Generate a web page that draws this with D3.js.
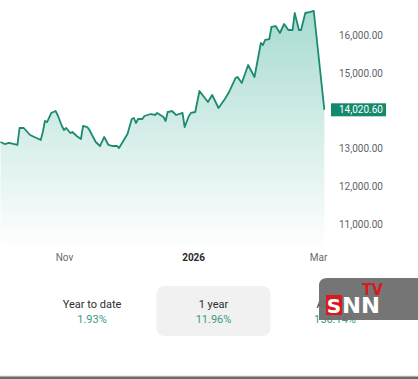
<!DOCTYPE html>
<html>
<head>
<meta charset="utf-8">
<script src="https://cdn.jsdelivr.net/npm/d3@7"></script>
<style>
  html, body { margin: 0; padding: 0; background: #fff; }
  svg { display: block; font-family: Roboto, "Noto Sans", sans-serif; }
</style>
</head>
<body>
<div id="chart"></div>
<script>
// closing values
const dates = [
  "2025-10-02","2025-10-04","2025-10-06","2025-10-10","2025-10-11","2025-10-13","2025-10-16","2025-10-18",
  "2025-10-21","2025-10-22","2025-10-23","2025-10-24","2025-10-26","2025-10-28","2025-10-29","2025-10-31",
  "2025-11-01","2025-11-02","2025-11-04","2025-11-05","2025-11-07","2025-11-09","2025-11-10","2025-11-12",
  "2025-11-13","2025-11-16","2025-11-18","2025-11-20","2025-11-22","2025-11-24","2025-11-26","2025-11-27",
  "2025-11-29","2025-12-01","2025-12-03","2025-12-04","2025-12-05","2025-12-06","2025-12-08","2025-12-09",
  "2025-12-12","2025-12-14","2025-12-15","2025-12-18","2025-12-19","2025-12-20","2025-12-22","2025-12-24",
  "2025-12-27","2025-12-28","2025-12-30","2025-12-31","2026-01-02","2026-01-04","2026-01-08","2026-01-10",
  "2026-01-13","2026-01-16","2026-01-18","2026-01-21","2026-01-22","2026-01-24","2026-01-27","2026-01-30",
  "2026-02-02","2026-02-03","2026-02-04","2026-02-06","2026-02-07","2026-02-09","2026-02-11","2026-02-13",
  "2026-02-15","2026-02-17","2026-02-18","2026-02-20","2026-02-21","2026-02-23","2026-02-25","2026-02-27",
  "2026-03-04"
];
const closes = [
  13169, 13116, 13143, 13090, 13540, 13540, 13355, 13302,
  13222, 13434, 13725, 13698, 13937, 13989, 13884, 13593,
  13487, 13540, 13407, 13434, 13328, 13249, 13593, 13566,
  13487, 13169, 13063, 13302, 13090, 13063, 13063, 13011,
  13196, 13381, 13778, 13804, 13672, 13778, 13778, 13857,
  13910, 13884, 13937, 13831, 13725, 13963, 13989, 13884,
  13937, 13566, 13857, 13937, 13963, 14519, 14228, 14413,
  14069, 14307, 14492, 14862, 14889, 14730, 15206, 14889,
  15788, 15735, 15868, 15894, 16212, 16238, 16053, 16291,
  16132, 16132, 16582, 16132, 16132, 16582, 16608, 16635,
  14020.60
];
const lastValue = 14020.60;

const yTicks = [11000, 12000, 13000, 14000, 15000, 16000];
const yTicksShown = [11000, 12000, 13000, 15000, 16000];
const xTickDates = ["2025-11-01", "2026-01-01", "2026-03-01"];
const xTickLabels = ["Nov", "2026", "Mar"];

const periodLabels = ["Year to date", "1 year", "All time"];
const periodReturns = ["1.93%", "11.96%", "156.14%"];
const selectedPeriod = "1 year";

const width = 418;
const height = 379;
const plotRight = 325;
const plotBottom = 250;

const parse = d3.utcParse("%Y-%m-%d");
const data = dates.map((d, i) => ({ date: parse(d), value: closes[i] }));

const svg = d3.select("#chart").append("svg")
  .attr("width", width)
  .attr("height", height)
  .attr("viewBox", `0 0 ${width} ${height}`);

const x = d3.scaleUtc()
  .domain([parse("2025-11-01"), parse("2026-03-01")])
  .range([64, 318]);

const y = d3.scaleLinear()
  .domain([11000, 16000])
  .range([224, 35]);

const defs = svg.append("defs");
const grad = defs.append("linearGradient")
  .attr("id", "fillGrad")
  .attr("gradientUnits", "userSpaceOnUse")
  .attr("x1", 0).attr("x2", 0)
  .attr("y1", 10).attr("y2", plotBottom);
grad.append("stop").attr("offset", 0).attr("stop-color", "#a6dbd1");
grad.append("stop").attr("offset", 0.55).attr("stop-color", "#d9efeb");
grad.append("stop").attr("offset", 1).attr("stop-color", "#ffffff");

defs.append("clipPath").attr("id", "plotClip")
  .append("rect").attr("x", 0).attr("y", 0).attr("width", plotRight).attr("height", plotBottom);

const area = d3.area()
  .x(d => x(d.date))
  .y0(plotBottom)
  .y1(d => y(d.value));

const line = d3.line()
  .x(d => x(d.date))
  .y(d => y(d.value));

const plot = svg.append("g").attr("clip-path", "url(#plotClip)");

plot.append("path")
  .datum(data)
  .attr("fill", "url(#fillGrad)")
  .attr("d", area);

plot.append("path")
  .datum(data)
  .attr("fill", "none")
  .attr("stroke", "#1b8a6e")
  .attr("stroke-width", 1.8)
  .attr("stroke-linejoin", "round")
  .attr("d", line);

// y axis on the right
const yAxis = svg.append("g")
  .attr("transform", "translate(339,0)")
  .call(d3.axisRight(y)
    .tickValues(yTicksShown)
    .tickSize(0)
    .tickPadding(0)
    .tickFormat(d3.format(",.2f")));
yAxis.select(".domain").remove();
yAxis.selectAll("text")
  .attr("font-family", "Roboto, sans-serif")
  .attr("font-size", 10)
  .attr("fill", "#5f6368");

// last value badge
const badgeY = y(lastValue);
svg.append("rect")
  .attr("x", 331).attr("y", badgeY - 6.5)
  .attr("width", 55).attr("height", 13)
  .attr("fill", "#14896c");
svg.append("text")
  .attr("x", 339).attr("y", badgeY)
  .attr("dy", "0.35em")
  .attr("font-size", 10)
  .attr("fill", "#ffffff")
  .text(d3.format(",.2f")(lastValue));

// x axis
const xAxis = svg.append("g")
  .attr("transform", `translate(0,${plotBottom})`)
  .call(d3.axisBottom(x)
    .tickValues(xTickDates.map(parse))
    .tickSize(0)
    .tickPadding(4)
    .tickFormat((d, i) => xTickLabels[i]));
xAxis.select(".domain").remove();
xAxis.selectAll("text")
  .attr("font-family", "Roboto, sans-serif")
  .attr("font-size", 10)
  .attr("fill", (d, i) => xTickLabels[i] === "2026" ? "#2b2b2b" : "#6b6b6b")
  .attr("font-weight", (d, i) => xTickLabels[i] === "2026" ? "bold" : "normal");

// period returns
const px = d3.scalePoint()
  .domain(periodLabels)
  .range([92, 335]);

svg.append("rect")
  .attr("x", px(selectedPeriod) - 57).attr("y", 286)
  .attr("width", 114).attr("height", 50)
  .attr("rx", 8)
  .attr("fill", "#f1f1f1");

const periods = svg.append("g").selectAll("g")
  .data(periodLabels)
  .join("g")
  .attr("transform", d => `translate(${px(d)},0)`);

periods.append("text")
  .attr("y", 308)
  .attr("text-anchor", "middle")
  .attr("font-size", 11)
  .attr("fill", "#2d2d2d")
  .text(d => d);

periods.append("text")
  .attr("y", 323)
  .attr("text-anchor", "middle")
  .attr("font-size", 11)
  .attr("fill", "#3a9a84")
  .text((d, i) => periodReturns[i]);

// SNN TV watermark
const logo = svg.append("g");
logo.append("path")
  .attr("d", "M327,278 H418 V320 H319 V286 Q319,278 327,278 Z")
  .attr("fill", "#6e6e6e")
  .attr("opacity", 0.95);
logo.append("rect")
  .attr("x", 326).attr("y", 295).attr("width", 16).attr("height", 20)
  .attr("fill", "#d71920");
logo.append("text")
  .attr("x", 334).attr("y", 313)
  .attr("text-anchor", "middle")
  .attr("font-family", "'DejaVu Sans', sans-serif")
  .attr("font-weight", "bold")
  .attr("font-size", 20)
  .attr("fill", "#ffffff")
  .text("S");
logo.append("text")
  .attr("x", 342).attr("y", 313)
  .attr("font-family", "'DejaVu Sans', sans-serif")
  .attr("font-weight", "bold")
  .attr("font-size", 21)
  .attr("textLength", 38)
  .attr("lengthAdjust", "spacingAndGlyphs")
  .attr("fill", "#ffffff")
  .text("NN");
logo.append("text")
  .attr("x", 362).attr("y", 295)
  .attr("font-family", "'DejaVu Sans', sans-serif")
  .attr("font-weight", "bold")
  .attr("font-size", 15)
  .attr("textLength", 21)
  .attr("lengthAdjust", "spacingAndGlyphs")
  .attr("fill", "#d71920")
  .text("TV");

// bottom rule
svg.append("rect").attr("x", 0).attr("y", 375.5).attr("width", width).attr("height", 1).attr("fill", "#e2e2e2");
svg.append("rect").attr("x", 0).attr("y", 376.5).attr("width", width).attr("height", 2.5).attr("fill", "#6a6a6a");
</script>
</body>
</html>
